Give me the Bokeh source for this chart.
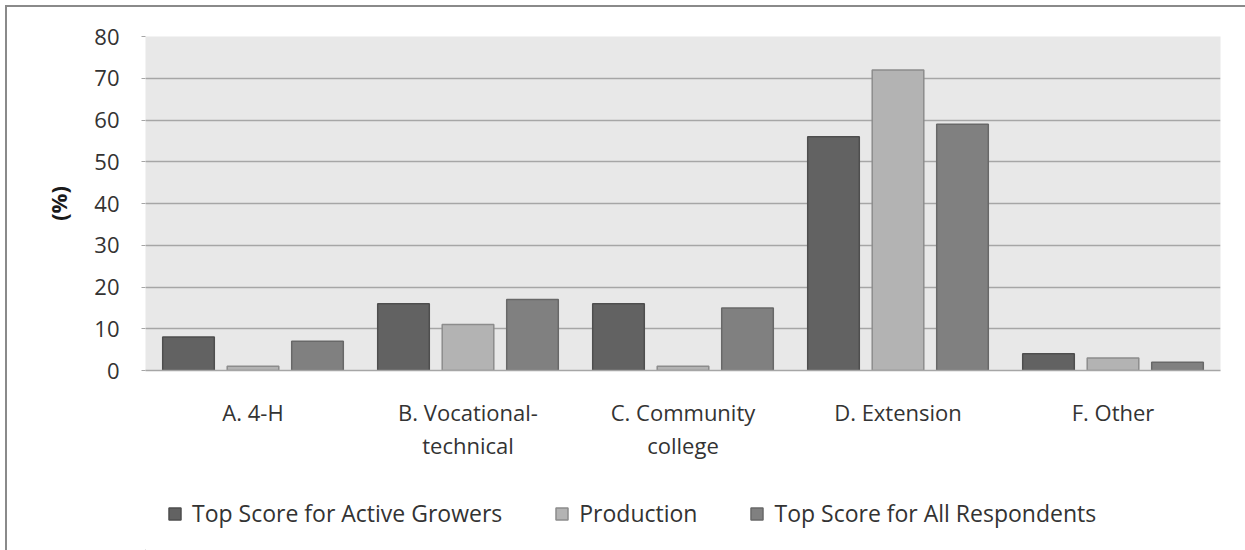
from bokeh.plotting import figure
from bokeh.layouts import column
from bokeh.models import ColumnDataSource, Legend, LegendItem, FactorRange, Range1d
from bokeh.transform import dodge
from bokeh.embed import file_html
from bokeh.resources import INLINE

# Survey data: share of respondents (%) per information source
categories = ["A. 4-H", "B. Vocational-\ntechnical", "C. Community\ncollege", "D. Extension", "F. Other"]
active_growers = [8, 16, 16, 56, 4]
production = [1, 11, 1, 72, 3]
all_respondents = [7, 17, 15, 59, 2]
series_names = ["Top Score for Active Growers", "Production", "Top Score for All Respondents"]
y_ticks = [0, 10, 20, 30, 40, 50, 60, 70, 80]

source = ColumnDataSource(data=dict(
    cat=categories,
    active=active_growers,
    prod=production,
    allr=all_respondents,
))

FONT = "Open Sans"
TEXT_COLOR = "#333333"
FS = "22px"

fills = ["#626262", "#b3b3b3", "#808080"]
edges = ["#4e4e4e", "#8c8c8c", "#686868"]
cols = ["active", "prod", "allr"]
offsets = [-0.3, 0.0, 0.3]

# ---- main bar chart ----
p = figure(
    x_range=FactorRange(*categories, range_padding=0),
    y_range=(0, 80),
    width=1238, height=463,
    output_backend="svg", toolbar_location=None,
    min_border_left=138, min_border_right=25,
    min_border_top=29, min_border_bottom=100,
)
p.background_fill_color = "#e8e8e8"
p.border_fill_color = "white"
p.outline_line_color = None

for col, off, fc, ec in zip(cols, offsets, fills, edges):
    p.vbar(x=dodge("cat", off, range=p.x_range), top=col, width=0.24,
           bottom=0, source=source, fill_color=fc, line_color=ec, line_width=1.5)

p.xgrid.grid_line_color = None
p.ygrid.grid_line_color = "#a6a6a6"
p.ygrid.grid_line_width = 1.5
p.ygrid.ticker = y_ticks

p.yaxis.ticker = y_ticks
p.yaxis.axis_line_color = None
p.yaxis.major_tick_line_color = "#a6a6a6"
p.yaxis.major_tick_out = 4
p.yaxis.major_tick_in = 0
p.yaxis.minor_tick_line_color = None
p.yaxis.major_label_standoff = 22
p.yaxis.major_label_text_font = FONT
p.yaxis.major_label_text_font_size = FS
p.yaxis.major_label_text_color = TEXT_COLOR
p.yaxis.axis_label = "(%)"
p.yaxis.axis_label_text_font = FONT
p.yaxis.axis_label_text_font_size = FS
p.yaxis.axis_label_text_font_style = "bold"
p.yaxis.axis_label_text_color = "#1a1a1a"
p.yaxis.axis_label_standoff = 18

p.xaxis.axis_line_color = "#a6a6a6"
p.xaxis.axis_line_width = 1.5
p.xaxis.major_tick_line_color = None
p.xaxis.minor_tick_line_color = None
p.xaxis.major_label_standoff = 20
p.xaxis.major_label_text_font = FONT
p.xaxis.major_label_text_font_size = FS
p.xaxis.major_label_text_color = TEXT_COLOR
p.xaxis.major_label_text_line_height = 1.1

# ---- legend strip underneath (frame is aligned with the chart above) ----
key = figure(
    width=1238, height=80,
    x_range=Range1d(0, 1), y_range=Range1d(0, 1),
    output_backend="svg", toolbar_location=None,
    x_axis_location=None, y_axis_location=None,
    min_border=0,
)
key.grid.visible = False
key.outline_line_color = None
key.background_fill_color = "white"
key.border_fill_color = "white"

# swatch hosts: one row each, parked outside the visible range
swatch_src = ColumnDataSource(data=dict(x=[-1.0], top=[0.0]))
swatches = [key.vbar(x="x", top="top", width=0.1, source=swatch_src,
                     fill_color=fc, line_color=ec, line_width=1.5)
            for fc, ec in zip(fills, edges)]

legend = Legend(
    items=[LegendItem(label=n, renderers=[r]) for n, r in zip(series_names, swatches)],
    orientation="horizontal",
    location=(22, 21),
    glyph_width=15, glyph_height=15,
    label_height=30,
    label_standoff=10, spacing=52,
    padding=0, margin=0,
    border_line_color=None, background_fill_alpha=0,
    label_text_font=FONT, label_text_font_size="23px", label_text_color=TEXT_COLOR,
)
key.add_layout(legend, "center")

layout = column(p, key, spacing=0)
layout.margin = (5, 0, 0, 5)
layout.styles = {"border-top": "2px solid #8a8a8a", "border-left": "2px solid #8a8a8a"}

open("out.html", "w").write(file_html(layout, INLINE))
